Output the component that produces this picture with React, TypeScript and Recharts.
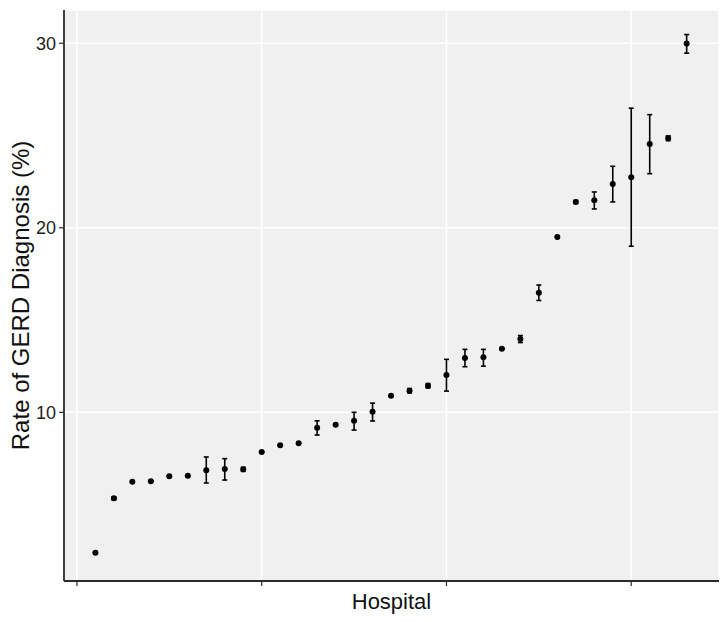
import React from "react"
import { ScatterChart, Scatter, XAxis, YAxis, CartesianGrid, ErrorBar, Label } from "recharts"

// hospitals ordered by rate, index 1..33
const hospitals = [1, 2, 3, 4, 5, 6, 7, 8, 9, 10, 11, 12, 13, 14, 15, 16, 17, 18, 19, 20, 21, 22, 23, 24, 25, 26, 27, 28, 29, 30, 31, 32, 33]
const rates = [2.39, 5.34, 6.24, 6.26, 6.53, 6.56, 6.86, 6.93, 6.91, 7.85, 8.21, 8.32, 9.17, 9.33, 9.55, 10.03, 10.9, 11.17, 11.44, 12.02, 12.94, 12.98, 13.45, 13.97, 16.48, 19.5, 21.4, 21.49, 22.37, 22.74, 24.54, 24.85, 29.98]
const lower = [2.39, 5.26, 6.24, 6.26, 6.53, 6.56, 6.17, 6.33, 6.8, 7.85, 8.21, 8.32, 8.77, 9.33, 9.04, 9.53, 10.9, 11.05, 11.32, 11.15, 12.47, 12.5, 13.45, 13.78, 16.06, 19.5, 21.32, 21.02, 21.4, 19.0, 22.93, 24.72, 29.46]
const upper = [2.39, 5.42, 6.24, 6.26, 6.53, 6.56, 7.58, 7.49, 7.02, 7.85, 8.21, 8.32, 9.54, 9.33, 10.0, 10.5, 10.9, 11.29, 11.56, 12.87, 13.41, 13.41, 13.45, 14.16, 16.9, 19.5, 21.48, 21.94, 23.33, 26.48, 26.13, 24.98, 30.47]
const xTicks = [0, 10, 20, 30]
const yTicks = [10, 20, 30]

const data = hospitals.map((h, i) => ({
  hospital: h,
  rate: rates[i],
  err: [rates[i] - lower[i], upper[i] - rates[i]],
}))

const font = "'Liberation Sans', Arial, Helvetica, sans-serif"
const axisColor = "#2b2b2b"

const Dot = (props: any) => <circle cx={props.cx} cy={props.cy} r={3} fill="#000" />

export default function App() {
  return (
    <div style={{ position: "absolute", left: 0, top: 0, width: 728, height: 622, background: "#fff" }}>
      <ScatterChart width={728} height={622} margin={{ top: 10, right: 9, bottom: 0, left: 0 }}>
        <CartesianGrid fill="#f0f0f0" stroke="#ffffff" strokeWidth={1.6} />
        <XAxis
          type="number"
          dataKey="hospital"
          domain={[-0.7, 34.75]}
          ticks={xTicks}
          allowDataOverflow
          height={41}
          tickFormatter={() => ""}
          tickSize={5}
          axisLine={{ stroke: axisColor, strokeWidth: 1.8 }}
          tickLine={{ stroke: axisColor, strokeWidth: 1.2 }}
        >
          <Label
            content={({ viewBox }: any) => (
              <text
                x={viewBox.x + viewBox.width / 2}
                y={viewBox.y + 28}
                textAnchor="middle"
                fontFamily={font}
                fontSize={22}
                fill="#111"
              >
                Hospital
              </text>
            )}
          />
        </XAxis>
        <YAxis
          type="number"
          dataKey="rate"
          domain={[0.86, 31.8]}
          ticks={yTicks}
          allowDataOverflow
          width={64}
          tickSize={5}
          tickMargin={3}
          tick={{ fill: "#222", fontSize: 18, fontFamily: font }}
          axisLine={{ stroke: axisColor, strokeWidth: 1.8 }}
          tickLine={{ stroke: axisColor, strokeWidth: 1.2 }}
        >
          <Label
            content={({ viewBox }: any) => {
              const cx = 20
              const cy = viewBox.y + viewBox.height / 2
              return (
                <text
                  x={cx}
                  y={cy}
                  transform={`rotate(-90 ${cx} ${cy})`}
                  textAnchor="middle"
                  dominantBaseline="central"
                  fontFamily={font}
                  fontSize={24}
                  fill="#111"
                >
                  Rate of GERD Diagnosis (%)
                </text>
              )
            }}
          />
        </YAxis>
        <Scatter data={data} dataKey="rate" shape={Dot} isAnimationActive={false}>
          <ErrorBar dataKey="err" direction="y" width={2.5} stroke="#000" strokeWidth={1.6} isAnimationActive={false} />
        </Scatter>
      </ScatterChart>
    </div>
  )
}
